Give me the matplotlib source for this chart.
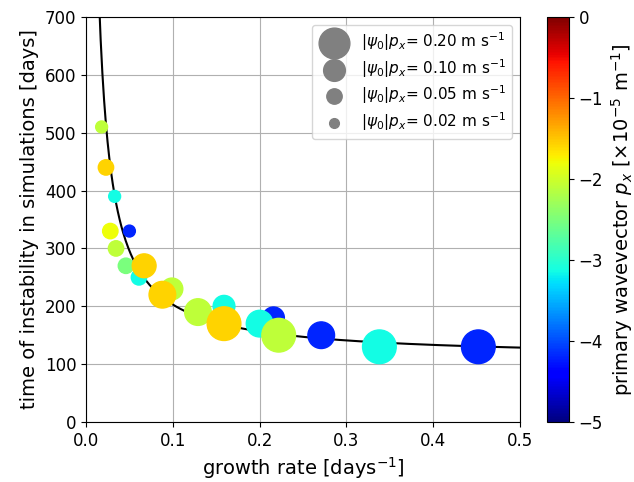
import numpy as np
import matplotlib
matplotlib.use("Agg")
import matplotlib.pyplot as plt

# growth rate [1/days], time of instability [days], px [1e-5 1/m], amplitude |psi0|px [m/s]
growth = [0.018, 0.023, 0.033, 0.028, 0.050, 0.0346, 0.046, 0.061, 0.067, 0.099,
          0.088, 0.129, 0.159, 0.159, 0.200, 0.216, 0.222, 0.271, 0.338, 0.452]
t_inst = [510, 440, 390, 330, 330, 300, 270, 250, 270, 230,
          220, 190, 200, 170, 170, 180, 150, 150, 130, 130]
px = [-2.09, -1.57, -3.14, -1.80, -4.19, -2.09, -2.51, -3.14, -1.57, -2.09,
      -1.57, -2.09, -3.14, -1.57, -3.14, -4.19, -2.09, -4.19, -3.14, -4.19]
amp = [0.03, 0.05, 0.03, 0.05, 0.03, 0.05, 0.05, 0.05, 0.12, 0.10,
       0.15, 0.15, 0.10, 0.24, 0.15, 0.10, 0.24, 0.15, 0.24, 0.24]

legend_amp = [0.20, 0.10, 0.05, 0.02]

# fitted curve t = a / sigma + b
fit_a = 9.3
fit_b = 110.0

size_scale = 2450

growth = np.array(growth)
t_inst = np.array(t_inst)
px = np.array(px)
amp = np.array(amp)

# plot lower px first so warmer colours sit on top
order = np.argsort(px, kind="stable")

fig = plt.figure(figsize=(6.34, 4.82), dpi=100)
ax = fig.add_axes([86/634, 1 - 422/482, 434/634, 405/482])
cax = fig.add_axes([547/634, 1 - 422/482, 22/634, 405/482])

sig = np.linspace(0.005, 0.5, 500)
ax.plot(sig, fit_a / sig + fit_b, color="black", lw=1.5, zorder=2)

sc = ax.scatter(growth[order], t_inst[order], s=size_scale * amp[order], c=px[order],
                cmap="jet", vmin=-5, vmax=0, zorder=3)

handles = []
for a in legend_amp:
    h = ax.scatter([], [], s=size_scale * a, color="gray")
    handles.append(h)
labels = [r"$|\psi_0|p_x$= %.2f m s$^{-1}$" % a for a in legend_amp]
ax.legend(handles, labels, loc="upper right", fontsize=11, scatterpoints=1,
          labelspacing=0.25)

ax.set_xlim(0, 0.5)
ax.set_ylim(0, 700)
ax.set_xticks(np.arange(0, 0.51, 0.1))
ax.set_yticks(np.arange(0, 701, 100))
ax.tick_params(labelsize=12)
ax.grid(True)
ax.set_axisbelow(True)
ax.set_xlabel(r"growth rate [days$^{-1}$]", fontsize=14)
ax.set_ylabel("time of instability in simulations [days]", fontsize=14)

cb = fig.colorbar(sc, cax=cax)
cb.ax.tick_params(labelsize=12)
cb.set_label(r"primary wavevector $p_x$ [$\times10^{-5}$ m$^{-1}$]", fontsize=14)

fig.savefig("out.png", dpi=100)
